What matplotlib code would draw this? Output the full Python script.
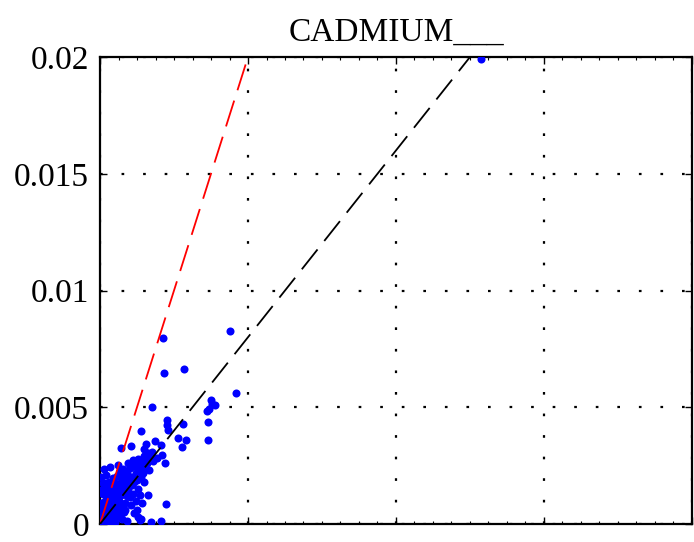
import matplotlib
matplotlib.use("Agg")
import matplotlib.pyplot as plt
import numpy as np
from matplotlib.ticker import MultipleLocator, NullFormatter

# measured vs predicted values, units of 1e-3
x_vals = [
    12.87, 4.39, 2.13, 2.84, 2.16, 4.59, 3.75, 3.78, 3.88, 3.68, 3.61, 3.65, 3.65,
    1.76, 2.26, 2.26, 2.30, 2.80, 2.63, 2.91, 2.77, 1.39, 1.55, 1.86, 1.05, 0.71,
    2.06, 2.20, 1.93, 2.09, 0.61, 2.23, 2.06, 1.72, 1.62, 1.35, 1.42, 1.35, 0.17,
    1.48, 1.62, 1.53, 0.27,
    # dense cluster near origin
    0.02, 0.05, 0.08, 0.10, 0.03, 0.06, 0.12, 0.15, 0.18, 0.20, 0.25, 0.28, 0.10,
    0.05, 0.22, 0.30, 0.02, 0.15, 0.30, 0.35,
    0.35, 0.40, 0.45, 0.50, 0.55, 0.60, 0.40, 0.45, 0.50, 0.65, 0.70, 0.30, 0.35,
    0.25, 0.55, 0.60, 0.65, 0.70, 0.20, 0.10, 0.15, 0.40, 0.50, 0.30, 0.45, 0.60,
    0.70,
    0.75, 0.80, 0.85, 0.90, 0.80, 0.95, 1.00, 0.85, 0.75, 0.90, 1.05, 1.10, 1.15,
    1.00, 1.10, 1.20, 0.95, 1.05, 0.90, 1.15, 1.20,
    1.25, 1.30, 1.40, 1.35, 1.50, 1.45, 1.60, 1.55, 1.70, 1.25, 1.30, 1.40, 1.65,
    1.80, 1.50, 1.30, 1.25, 1.40,
    0.10, 0.05, 0.20, 0.15, 0.35, 0.12, 0.08, 0.25, 0.58, 0.78, 0.95, 1.12, 1.32,
    0.42, 0.62, 0.85, 1.02, 0.52, 0.68, 0.88,
    1.18, 1.28, 1.45, 1.58, 1.08, 0.98, 0.72, 0.55, 0.38, 0.22, 0.08, 0.18, 0.32,
    0.48, 0.66, 0.82, 1.38, 1.62, 1.75, 0.92,
]
y_vals = [
    19.92, 8.27, 7.97, 6.64, 6.47, 5.61, 5.31, 5.14, 5.10, 4.93, 4.84, 4.37, 3.60,
    5.01, 4.45, 4.24, 4.03, 4.28, 3.68, 3.60, 3.30, 3.98, 3.43, 3.55, 3.34, 3.26,
    3.38, 2.61, 2.83, 2.96, 2.53, 0.86, 0.13, 0.09, 1.24, 1.24, 0.90, 0.17, 1.76,
    3.20, 3.05, 2.55, 1.76,
    0.05, 0.12, 0.03, 0.20, 0.30, 0.45, 0.35, 0.10, 0.25, 0.50, 0.15, 0.40, 0.60,
    0.70, 0.70, 0.60, 0.90, 0.85, 0.05, 0.20,
    0.75, 0.50, 0.30, 0.10, 0.60, 0.90, 1.00, 1.20, 0.85, 0.40, 0.70, 1.10, 1.35,
    1.50, 1.40, 1.15, 1.00, 1.25, 1.20, 1.30, 1.60, 1.60, 1.75, 1.80, 1.95, 1.60,
    1.80,
    0.20, 0.50, 0.90, 1.20, 1.40, 1.50, 1.70, 1.90, 2.10, 2.20, 2.00, 1.30, 1.80,
    2.40, 2.50, 2.20, 2.60, 0.80, 0.15, 0.45, 1.00,
    2.60, 2.80, 2.70, 2.40, 2.90, 2.20, 2.60, 3.00, 2.80, 1.90, 1.50, 2.00, 2.30,
    2.70, 1.80, 0.30, 0.60, 0.20,
    1.75, 2.00, 2.10, 2.35, 2.45, 0.95, 1.45, 1.05, 2.05, 2.35, 1.95, 2.75, 2.15,
    0.65, 0.35, 0.60, 1.15, 1.45, 2.25, 1.60,
    2.05, 2.25, 2.45, 2.75, 1.65, 1.85, 1.45, 1.25, 1.15, 0.85, 0.55, 0.65, 0.95,
    1.05, 1.30, 1.60, 2.55, 2.95, 3.10, 1.35,
]

red_slope = 4.0     # upper reference line
black_slope = 1.6   # fitted line

x = np.array(x_vals) * 1e-3
y = np.array(y_vals) * 1e-3

plt.rcParams['font.family'] = ['Liberation Serif', 'DejaVu Serif']

fig = plt.figure(figsize=(6.94, 5.42), dpi=100)
ax = fig.add_axes([0.1441, 0.0332, 0.853, 0.8616])

ax.plot(x, y, 'o', color='blue', markersize=5.8, markeredgewidth=0, zorder=3)

ax.plot([0, 0.02 / red_slope], [0, 0.02], color='red', linewidth=1.3,
        linestyle=(0, (15, 6)), zorder=4)
ax.plot([0, 0.02 / black_slope], [0, 0.02], color='black', linewidth=1.3,
        linestyle=(0, (14, 6)), zorder=4)

ax.set_xlim(0, 0.02)
ax.set_ylim(0, 0.02)
ax.set_xticks([0, 0.005, 0.01, 0.015, 0.02])
ax.set_yticks([0, 0.005, 0.01, 0.015, 0.02])
ax.set_yticklabels(['0', '0.005', '0.01', '0.015', '0.02'])
ax.xaxis.set_major_formatter(NullFormatter())
ax.xaxis.set_minor_locator(MultipleLocator(0.000625))

ax.tick_params(axis='both', which='major', direction='in', length=5, width=1,
               top=True, right=True, labelsize=24, pad=8)
ax.tick_params(axis='x', which='minor', direction='in', length=2, width=0.8,
               top=True, bottom=True)

ax.grid(True, which='major', color='black', linestyle=(0, (1.2, 8.5)), linewidth=1.6)

for s in ax.spines.values():
    s.set_linewidth(1.6)

ax.set_title('CADMIUM___', fontsize=24, pad=12)

fig.savefig('out.png', dpi=100)
